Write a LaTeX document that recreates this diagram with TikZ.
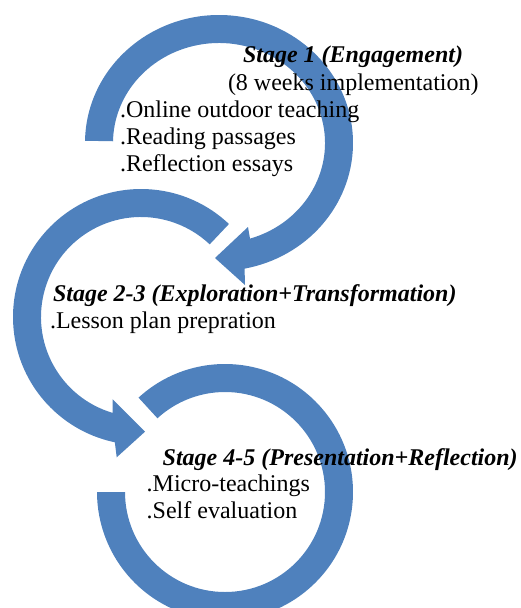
\documentclass[tikz,border=0pt]{standalone}
\usepackage{fontspec}
\setmainfont{Liberation Serif}
\definecolor{ringblue}{RGB}{79,129,189}
\tikzset{
  ring/.style={fill=ringblue, draw=none},
  txt/.style={anchor=base west, inner sep=0pt, outer sep=0pt, font=\fontsize{24}{27}\selectfont},
  head/.style={txt, font=\fontsize{24}{27}\selectfont\bfseries\itshape}
}
\begin{document}
\begin{tikzpicture}[x=1pt,y=-1pt]
\useasboundingbox (0,0) rectangle (520,608);
\clip (0,0) rectangle (520,608);
% Ring 3 (bottom, no arrowhead)
\begin{scope}[shift={(225,492)}]
\fill[ring] (-132.5:128) arc[start angle=-132.5, end angle=180, radius=128]
  -- (180:100) arc[start angle=180, end angle=-132.5, radius=100] -- cycle;
\end{scope}
% Ring 2 (middle, arrow at lower right)
\begin{scope}[shift={(141,317)}]
\fill[ring] (-46.6:128) arc[start angle=-46.6, end angle=-258.2, radius=128]
  -- (-24.3,140.3) -- (4,114.7) -- (-28.3,82.3)
  -- (-253.5:100) arc[start angle=-253.5, end angle=-46.6, radius=100] -- cycle;
\end{scope}
% Ring 1 (top, arrow at bottom)
\begin{scope}[shift={(219,143)}]
\fill[ring] (181:134 and 128) arc[start angle=181, end angle=439, x radius=134, y radius=128]
  -- (26,142) -- (-4,115) -- (29,84)
  -- (433:106 and 100) arc[start angle=433, end angle=181, x radius=106, y radius=100] -- cycle;
\end{scope}
% Texts
\node[head] (s1) at (243,62) {Stage 1 (Engagement)};
\node[txt] (s1a) at (228,90.5) {(8 weeks implementation)};
\node[txt] (s1b) at (120,117) {.Online outdoor teaching};
\node[txt] (s1c) at (120,144.5) {.Reading passages};
\node[txt] (s1d) at (120,171.5) {.Reflection essays};
\node[head] (s2) at (53,301.7) {Stage 2-3 (Exploration+Transformation)};
\node[txt] (s2a) at (50,328.3) {.Lesson plan prepration};
\node[head] (s3) at (162.7,465) {Stage 4-5 (Presentation+Reflection)};
\node[txt] (s3a) at (146.7,491.7) {.Micro-teachings};
\node[txt] (s3b) at (146.7,518.3) {.Self evaluation};
\end{tikzpicture}
\end{document}
